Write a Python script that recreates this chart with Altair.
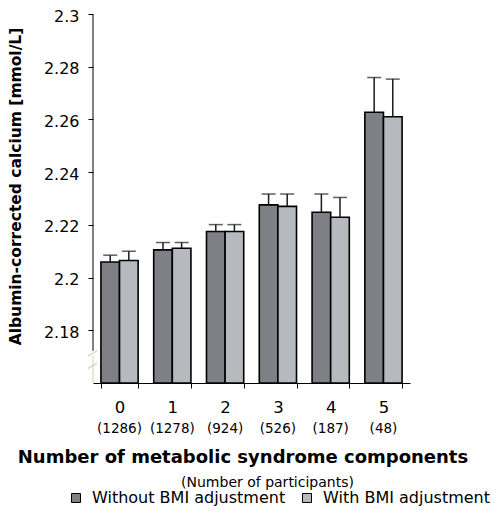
import altair as alt
import pandas as pd

cats = ["0", "1", "2", "3", "4", "5"]
counts = ["(1286)", "(1278)", "(924)", "(526)", "(187)", "(48)"]
series = ["Without BMI adjustment", "With BMI adjustment"]
mean_without = [2.2059, 2.2105, 2.2175, 2.2276, 2.2248, 2.2627]
upper_without = [2.2085, 2.2133, 2.2201, 2.2317, 2.2317, 2.2759]
mean_with = [2.2065, 2.2111, 2.2175, 2.2270, 2.2229, 2.2610]
upper_with = [2.2100, 2.2133, 2.2201, 2.2317, 2.2304, 2.2753]
y_ticks = [2.18, 2.2, 2.22, 2.24, 2.26, 2.28, 2.3]
y_min, y_max = 2.16, 2.3
colors = ["#7f8085", "#b6b9bd"]
subtitle = "(Number of participants)"
x_title = "Number of metabolic syndrome components"
y_title = "Albumin-corrected calcium [mmol/L]"

rows = []
for i, c in enumerate(cats):
    rows.append(dict(cat=c, series=series[0], mean=mean_without[i], upper=upper_without[i]))
    rows.append(dict(cat=c, series=series[1], mean=mean_with[i], upper=upper_with[i]))
df = pd.DataFrame(rows)
count_df = pd.DataFrame({"cat": cats, "count": counts})
sub_df = pd.DataFrame({"t": [subtitle]})
one = pd.DataFrame({"a": [0]})

FONT = "DejaVu Sans"

y_scale = alt.Scale(domain=[y_min, y_max], zero=False, nice=False)
y_axis = alt.Axis(
    values=y_ticks, labelExpr="format(datum.value, '~g')", domain=False, grid=False,
    tickSize=5, tickColor="black", tickWidth=1, labelPadding=9, labelFont=FONT,
    labelFontSize=16, labelColor="black", labelOffset=2,
    titleFont=FONT, titleFontWeight="bold", titleFontSize=15.5, titleColor="black",
    titleAngle=270, titleX=-78, titleY=172, titleAlign="center", titleBaseline="middle",
)
x_scale = alt.Scale(paddingInner=0.295, paddingOuter=0.15)
x_axis = alt.Axis(
    labelAngle=0, tickBand="extent", tickSize=5, tickColor="black", domainColor="black",
    labelFont=FONT, labelFontSize=16.5, labelColor="black", labelPadding=11,
    titleFont=FONT, titleFontSize=18, titleFontWeight="bold", titleColor="black",
    titleX=149.5, titleY=74, titleAlign="center", titleBaseline="middle", grid=False,
)
X = alt.X("cat:N", sort=cats, scale=x_scale, axis=x_axis, title=x_title)
XO = alt.XOffset("series:N", sort=series)

bars = alt.Chart(df).mark_bar(stroke="black", strokeWidth=1.6).encode(
    x=X,
    xOffset=XO,
    y=alt.Y("mean:Q", scale=y_scale, axis=y_axis, title=y_title, stack=None),
    y2=alt.datum(y_min),
    color=alt.Color(
        "series:N", sort=series, scale=alt.Scale(domain=series, range=colors),
        legend=alt.Legend(
            orient="none", legendX=-25, legendY=476, direction="horizontal", title=None,
            symbolType="square", symbolSize=81, symbolStrokeColor="black",
            symbolStrokeWidth=1, labelFont=FONT, labelFontSize=16, labelColor="black",
            labelOffset=8, columnPadding=13, padding=0, labelLimit=400,
        ),
    ),
)

whisk = alt.Chart(df).mark_rule(color="#1a1a1a", strokeWidth=1.5).encode(
    x=X, xOffset=XO,
    y=alt.Y("mean:Q", scale=y_scale, axis=y_axis, title=y_title),
    y2="upper:Q",
)
caps = alt.Chart(df).mark_tick(color="#1a1a1a", thickness=1.5, size=14).encode(
    x=X, xOffset=XO,
    y=alt.Y("upper:Q", scale=y_scale, axis=y_axis, title=y_title),
)

count_text = alt.Chart(count_df).mark_text(
    font=FONT, fontSize=13.5, color="black", baseline="middle"
).encode(x=X, y=alt.value(415), text="count:N")

sub_text = alt.Chart(sub_df).mark_text(
    font=FONT, fontSize=14, color="black", baseline="middle"
).encode(x=alt.value(174.5), y=alt.value(469), text="t:N")

axis_line = alt.Chart(one).mark_rule(color="black", strokeWidth=1).encode(
    x=alt.value(0), y=alt.datum(y_max), y2=alt.datum(2.1722)
)
axis_low = alt.Chart(one).mark_rule(color="#d6cfbb", strokeWidth=1).encode(
    x=alt.value(0), y=alt.datum(2.1704), y2=alt.datum(y_min)
)
breaks = alt.Chart(pd.DataFrame({"lo": [2.1702, 2.1655], "hi": [2.1722, 2.1675]})).mark_rule(
    color="#c8bfa5", strokeWidth=1
).encode(x=alt.value(-5), x2=alt.value(4), y="lo:Q", y2="hi:Q")

chart = alt.layer(
    bars, whisk, caps, axis_line, axis_low, breaks, count_text, sub_text
).properties(
    width=317, height=369,
    padding={"left": 85, "top": 6, "right": 80, "bottom": 127},
    autosize=alt.AutoSizeParams(type="none"),
    background="white",
).configure_view(stroke=None)

chart.save("out.html", embed_options={"renderer": "svg", "actions": False})
